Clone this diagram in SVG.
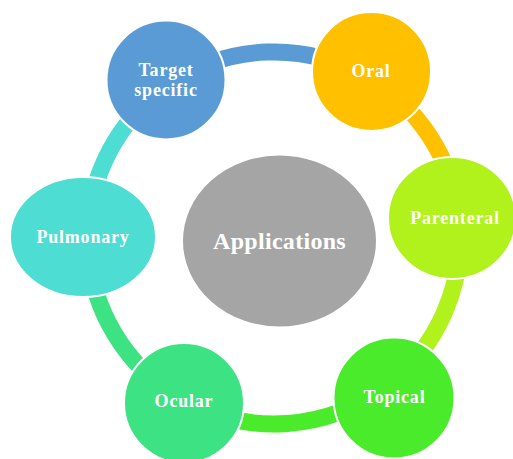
<svg xmlns="http://www.w3.org/2000/svg" width="513" height="459" viewBox="0 0 513 459">
  <style>
    .link { fill: none; stroke-width: 17; stroke-linecap: butt; }
    .node { stroke: #ffffff; stroke-width: 2; }
    .lbl { font-family: "Liberation Serif", "Times New Roman", serif; font-weight: bold; font-size: 18px; letter-spacing: 0.8px; fill: #ffffff; text-anchor: middle; }
    .center { font-size: 24px; letter-spacing: 0.3px; }
  </style>
  <rect x="0" y="0" width="513" height="459" fill="#ffffff"/>
  <g id="connectors">
    <path class="link" stroke="#5B9BD5" d="M168.9,84.5 A186,186 0 0 1 367.4,77.1"/>
    <path class="link" stroke="#FFC000" d="M367.4,77.1 A186,186 0 0 1 458.8,217.3"/>
    <path class="link" stroke="#B1F11C" d="M458.8,217.3 A186,186 0 0 1 385.6,386.8"/>
    <path class="link" stroke="#49EB2A" d="M385.6,386.8 A186,186 0 0 1 185,401.3"/>
    <path class="link" stroke="#3DE283" d="M185,401.3 A186,186 0 0 1 88,237"/>
    <path class="link" stroke="#4DDDD3" d="M88,237 A186,186 0 0 1 168.9,84.5"/>
  </g>
  <g id="applications">
    <ellipse class="node" cx="279.5" cy="241" rx="97.5" ry="86.5" fill="#A5A5A5"/>
    <text class="lbl center" x="279.5" y="249">Applications</text>
  </g>
  <g id="target-specific">
    <circle class="node" cx="166" cy="80" r="59.5" fill="#5B9BD5"/>
    <text class="lbl" x="166" y="76">Target</text>
    <text class="lbl" x="166" y="96">specific</text>
  </g>
  <g id="oral">
    <circle class="node" cx="371.5" cy="71.5" r="59.5" fill="#FFC000"/>
    <text class="lbl" x="371" y="77">Oral</text>
  </g>
  <g id="parenteral">
    <ellipse class="node" cx="452" cy="218" rx="64" ry="61" fill="#B1F11C"/>
    <text class="lbl" x="455" y="224">Parenteral</text>
  </g>
  <g id="topical">
    <circle class="node" cx="394" cy="398" r="60.5" fill="#49EB2A"/>
    <text class="lbl" x="394.5" y="403">Topical</text>
  </g>
  <g id="ocular">
    <circle class="node" cx="184" cy="403" r="60" fill="#3DE283"/>
    <text class="lbl" x="184" y="407">Ocular</text>
  </g>
  <g id="pulmonary">
    <ellipse class="node" cx="83" cy="237" rx="73" ry="60" fill="#4DDDD3"/>
    <text class="lbl" x="83" y="243">Pulmonary</text>
  </g>
</svg>
